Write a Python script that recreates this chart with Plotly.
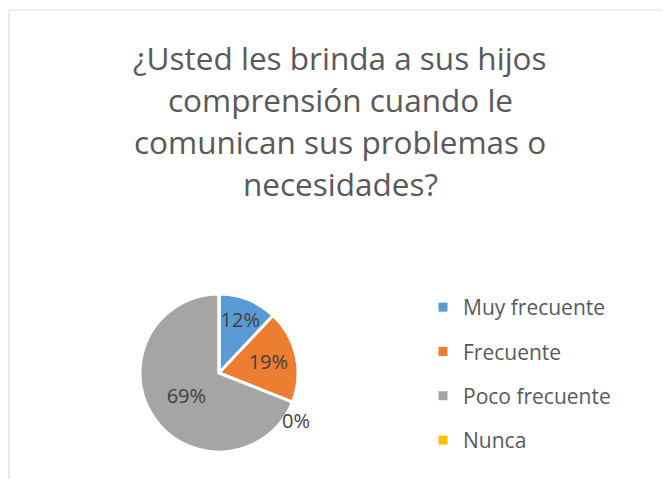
import plotly.graph_objects as go

categories = ["Muy frecuente", "Frecuente", "Poco frecuente", "Nunca"]
values = [12, 19, 69, 0]
colors = ["#5B9BD5", "#ED7D31", "#A5A5A5", "#FFC000"]
title_lines = ["¿Usted les brinda a sus hijos", "comprensión cuando le",
               "comunican sus problemas o", "necesidades?"]

W, H = 670, 479
FONT = "Open Sans"
OFF = 8  # page body offset of the figure in the browser


def px(x):
    return (x - OFF) / W


def py(y):
    return 1 - (y - OFF) / H


fig = go.Figure()
fig.add_trace(go.Pie(
    labels=categories, values=values, sort=False, direction="clockwise", rotation=0,
    marker=dict(colors=colors, line=dict(color="white", width=3)),
    texttemplate="%{percent:.0%}",
    textposition=["inside" if v > 0 else "none" for v in values],
    insidetextorientation="horizontal",
    textfont=dict(family=FONT, size=20, color="#404040"),
    showlegend=False, hoverinfo="label+percent",
    domain=dict(x=[px(140), px(298)], y=[py(453), py(293)]),
))

for name, col in zip(categories, colors):
    fig.add_trace(go.Scatter(
        x=[None], y=[None], mode="markers", name=name, legendgroup=name,
        marker=dict(symbol="square", size=9, color=col),
    ))

annotations = []
for i, line in enumerate(title_lines):
    annotations.append(dict(
        text=line, xref="paper", yref="paper", x=px(340), y=py(57.5 + 42 * i),
        xanchor="center", yanchor="middle", showarrow=False,
        font=dict(family=FONT, size=31.5, color="#595959"),
    ))
# label for the zero-value slice
annotations.append(dict(
    text=f"{values[3]}%", xref="paper", yref="paper", x=px(296), y=py(420),
    xanchor="center", yanchor="middle", showarrow=False,
    font=dict(family=FONT, size=20, color="#404040"),
))

fig.update_layout(
    width=W, height=H, margin=dict(l=0, r=0, t=0, b=0),
    paper_bgcolor="white", plot_bgcolor="white",
    xaxis=dict(visible=False), yaxis=dict(visible=False),
    uniformtext=dict(minsize=20, mode="show"),
    legend=dict(x=px(423), y=py(287), xanchor="left", yanchor="top",
                traceorder="grouped", tracegroupgap=14, itemwidth=30,
                font=dict(family=FONT, size=21, color="#595959")),
    annotations=annotations,
    shapes=[dict(type="rect", xref="paper", yref="paper", x0=1 / W, x1=1.02,
                 y0=-0.02, y1=py(10), line=dict(color="#D9D9D9", width=1))],
)

fig.write_html("out.html")
